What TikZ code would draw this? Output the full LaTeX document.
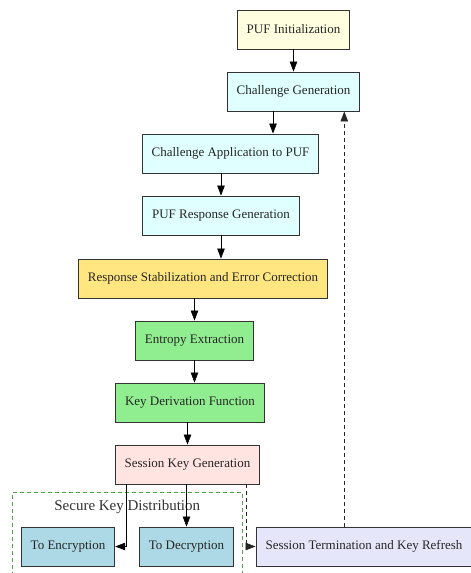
\documentclass[tikz,border=0pt]{standalone}
\usepackage{fontspec}
\setmainfont{Liberation Serif}
\usetikzlibrary{arrows.meta,positioning,calc,fit}
\definecolor{initcol}{HTML}{FFFFE0}
\definecolor{chalcol}{HTML}{E0FFFF}
\definecolor{stabcol}{HTML}{FFE680}
\definecolor{keycol}{HTML}{90EE90}
\definecolor{sesscol}{HTML}{FFE4E1}
\definecolor{distcol}{HTML}{ADD8E6}
\definecolor{termcol}{HTML}{E6E6FA}
\definecolor{clustcol}{HTML}{4CA64C}

\begin{document}
\begin{tikzpicture}[->,>={Triangle[length=10pt,width=7.5pt]},semithick]
			\tikzstyle{proc}=[rectangle,draw=black!80,line width=0.9pt,text=black!85,font=\fontsize{13}{15}\selectfont,minimum height=39pt,inner xsep=9.5pt]
			\tikzstyle{back}=[dashed,dash pattern=on 4pt off 3pt,draw=black!85,line width=0.7pt]
			\tikzstyle{cltitle}=[inner xsep=0pt,inner ysep=-2pt,text=black!80,font=\fontsize{15}{18}\selectfont]
			\tikzstyle{cluster}=[draw=clustcol,dashed,dash pattern=on 4pt off 3pt,line width=0.8pt,inner xsep=8.5pt,inner ysep=9pt]
			% page: init sits at the origin
			\useasboundingbox (-293.5pt,29.5pt) rectangle ++(471pt,-573pt);
			\node[proc,fill=initcol]  (init) at (0,0)                                   {PUF Initialization};
			\node[proc,fill=chalcol]  (chgen)[below of=init,node distance=62pt]          {Challenge Generation};
			\node[proc,fill=chalcol]  (chapp)[below of=chgen,node distance=62pt,xshift=-63pt] {Challenge Application to PUF};
			\node[proc,fill=chalcol]  (resp)[below of=chapp,node distance=62pt,xshift=-9.5pt] {PUF Response Generation};
			\node[proc,fill=stabcol]  (stab)[below of=resp,node distance=63pt,xshift=-18pt]   {Response Stabilization and Error Correction};
			\node[proc,fill=keycol]   (ent)[below of=stab,node distance=62pt,xshift=-8.5pt]   {Entropy Extraction};
			\node[proc,fill=keycol]   (kdf)[below of=ent,node distance=62pt,xshift=-4.5pt]    {Key Derivation Function};
			\node[proc,fill=sesscol]  (skg)[below of=kdf,node distance=62pt,xshift=-2.5pt]    {Session Key Generation};
			\node[proc,fill=distcol]  (dec)[below of=skg,node distance=82pt,xshift=-1pt]      {To Decryption};
			\node[proc,fill=distcol]  (enc)[left of=dec,node distance=118.5pt]                {To Encryption};
			\node[proc,fill=termcol]  (term)[right of=dec,node distance=177.5pt]              {Session Termination and Key Refresh};
			\node[cltitle]            (sktitle) at ($(enc)!0.5!(dec)+(0,40pt)$)               {Secure Key Distribution};
			\node[cluster,fit=(enc)(dec)(sktitle)] (skd) {};
			\coordinate (m1) at ($(chgen.south west)!0.5!(chapp.north east)$);
			\coordinate (ret) at ([xshift=-16pt]chgen.south east);
			\path
			(init) edge (chgen)
			(m1 |- chgen.south) edge (m1 |- chapp.north)
			(resp.north |- chapp.south) edge (resp)
			(resp) edge (resp.south |- stab.north)
			(ent.north |- stab.south) edge (ent)
			(ent) edge (ent.south |- kdf.north)
			(skg.north |- kdf.south) edge (skg)
			(skg.south -| dec) edge (dec);
			\draw ([xshift=12pt]skg.south west) |- (enc);
			\draw[back] ([xshift=-14pt]skg.south east) |- (term);
			\draw[back] (ret |- term.north) -- (ret);
		\end{tikzpicture}
\end{document}
